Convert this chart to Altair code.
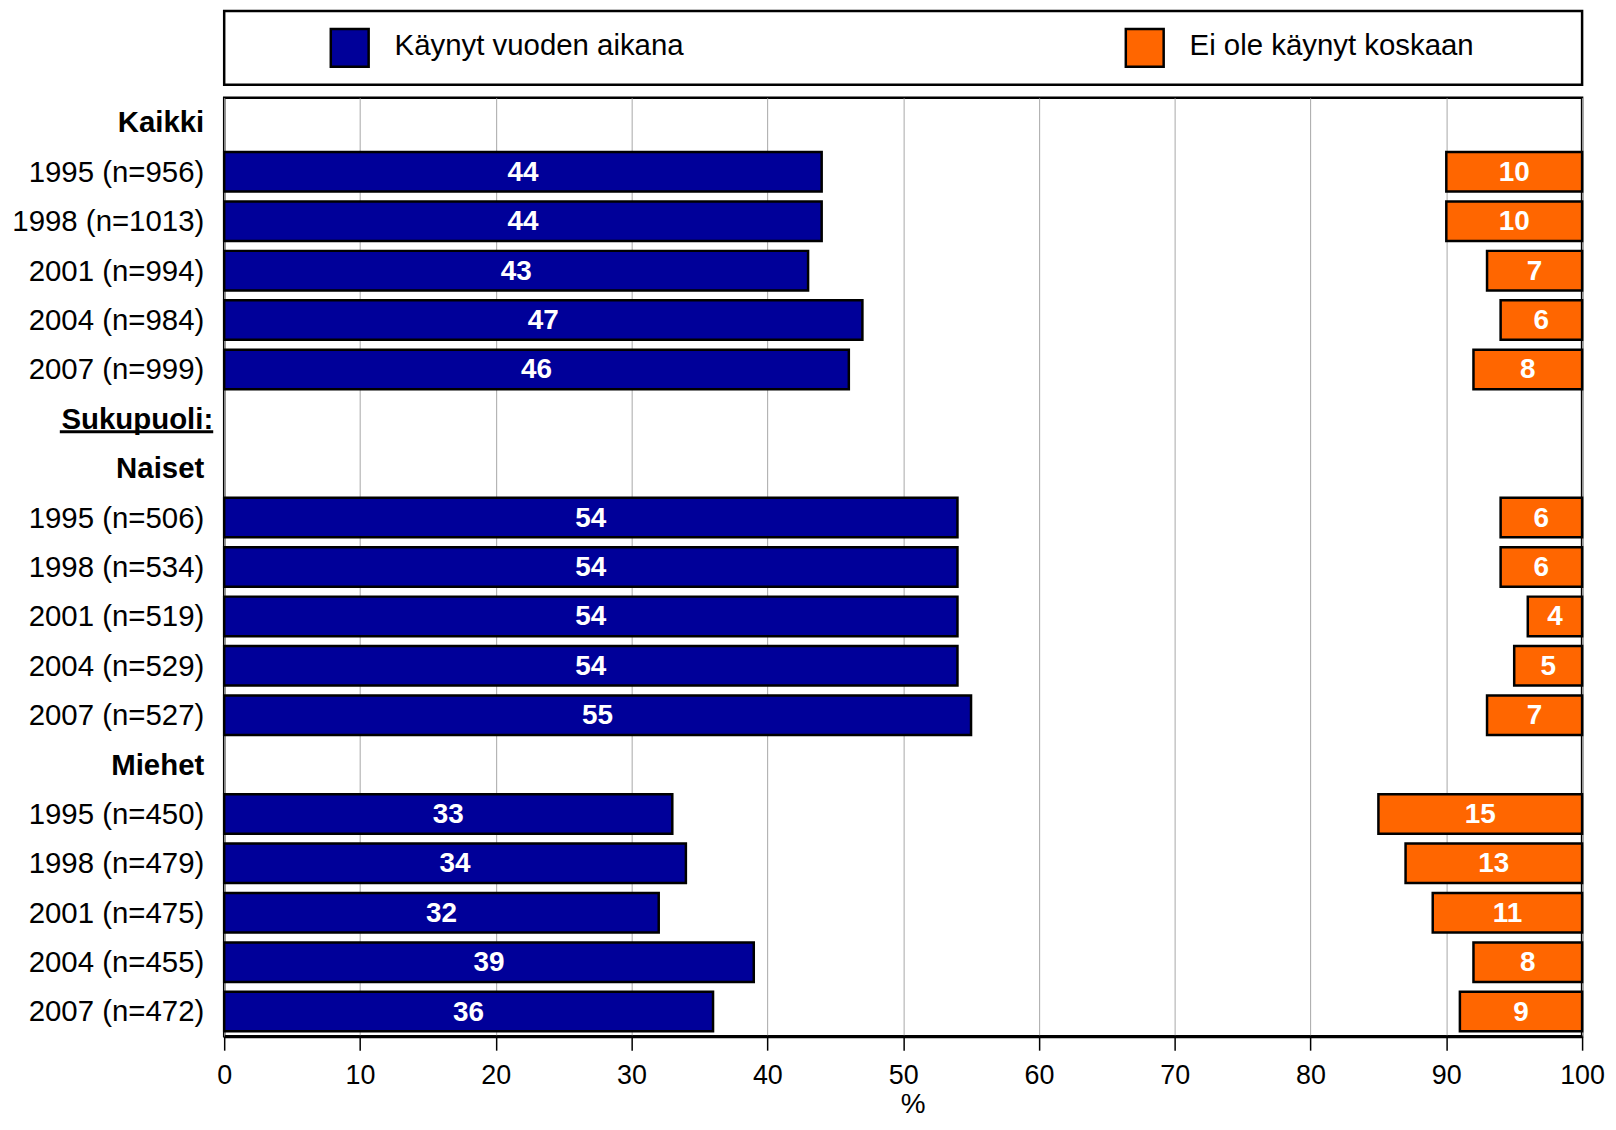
import altair as alt
import pandas as pd

labels = ["Kaikki", "1995 (n=956)", "1998 (n=1013)", "2001 (n=994)", "2004 (n=984)", "2007 (n=999)",
          "Sukupuoli:", "Naiset", "1995 (n=506)", "1998 (n=534)", "2001 (n=519)", "2004 (n=529)", "2007 (n=527)",
          "Miehet", "1995 (n=450)", "1998 (n=479)", "2001 (n=475)", "2004 (n=455)", "2007 (n=472)"]
visited = [None, 44, 44, 43, 47, 46, None, None, 54, 54, 54, 54, 55, None, 33, 34, 32, 39, 36]
never = [None, 10, 10, 7, 6, 8, None, None, 6, 6, 4, 5, 7, None, 15, 13, 11, 8, 9]
kinds = ["head", "row", "row", "row", "row", "row", "section", "head", "row", "row", "row", "row", "row",
         "head", "row", "row", "row", "row", "row"]
series = ["Käynyt vuoden aikana", "Ei ole käynyt koskaan"]
colors = ["#000099", "#FF6600"]
x_ticks = list(range(0, 101, 10))

df = pd.DataFrame({"label": labels, "visited": visited, "never": never, "kind": kinds})
legend_df = pd.DataFrame({"series": series, "color": colors})

W, H = 1363, 942
FONT = "Liberation Sans"
LBL = 29.5

y_enc = alt.Y("label:N", sort=labels, axis=None,
              scale=alt.Scale(paddingInner=0.2, paddingOuter=0.1))
x_scale = alt.Scale(domain=[0, 100], nice=False, zero=False)

base = alt.Chart(df)

blue = base.transform_filter("isValid(datum.visited)").transform_calculate(
    start="0"
).mark_bar(color=colors[0], stroke="black", strokeWidth=2.5).encode(
    x=alt.X("start:Q", scale=x_scale,
            axis=alt.Axis(values=x_ticks, title="%", grid=True, gridColor="#A8A8A8", gridWidth=1,
                          domainColor="black", domainWidth=3, tickColor="black", tickSize=14, tickWidth=1.5,
                          labelFontSize=27, labelColor="black", labelPadding=25, labelBaseline="middle",
                          labelFlush=False, labelOverlap=False,
                          labelFont=FONT, titleFont=FONT, titleFontSize=28, titleFontWeight="normal",
                          titleColor="black", titleX=691, titleY=69, titleBaseline="middle")),
    x2="visited:Q",
    y=y_enc,
)

orange = base.transform_filter("isValid(datum.never)").transform_calculate(
    start="100 - datum.never", end="100"
).mark_bar(color=colors[1], stroke="black", strokeWidth=2.5).encode(
    x=alt.X("start:Q", scale=x_scale),
    x2="end:Q",
    y=y_enc,
)

blue_txt = base.transform_filter("isValid(datum.visited)").transform_calculate(
    mid="datum.visited / 2"
).mark_text(color="white", fontSize=28, fontWeight="bold", font=FONT, baseline="middle", dy=1).encode(
    x=alt.X("mid:Q", scale=x_scale), y=y_enc, text=alt.Text("visited:Q", format="d"))

orange_txt = base.transform_filter("isValid(datum.never)").transform_calculate(
    mid="100 - datum.never / 2"
).mark_text(color="white", fontSize=28, fontWeight="bold", font=FONT, baseline="middle", dy=1).encode(
    x=alt.X("mid:Q", scale=x_scale), y=y_enc, text=alt.Text("never:Q", format="d"))

row_lbl = base.transform_filter("datum.kind == 'row'").mark_text(
    align="right", baseline="middle", fontSize=LBL, font=FONT, color="black", dy=1
).encode(x=alt.value(-20), y=y_enc, text="label:N")

head_lbl = base.transform_filter("datum.kind == 'head'").mark_text(
    align="right", baseline="middle", fontSize=LBL, font=FONT, fontWeight="bold", color="black", dy=1
).encode(x=alt.value(-20), y=y_enc, text="label:N")

sec_lbl = base.transform_filter("datum.kind == 'section'").mark_text(
    align="right", baseline="middle", fontSize=LBL, font=FONT, fontWeight="bold", color="black", dy=1
).encode(x=alt.value(-11), y=y_enc, text="label:N")

sec_line = base.transform_filter("datum.kind == 'section'").mark_rule(
    color="black", strokeWidth=3, yOffset=13
).encode(x=alt.value(-165), x2=alt.value(-11), y=y_enc)

# legend box
leg_box = alt.Chart(legend_df).transform_filter(alt.datum.series == series[0]).mark_rect(
    fill="white", stroke="black", strokeWidth=2.5
).encode(x=alt.value(0), x2=alt.value(W), y=alt.value(-87), y2=alt.value(-13))

leg_layers = []
for s, c, sx, tx in [(series[0], colors[0], 107, 171), (series[1], colors[1], 905, 969)]:
    leg_layers.append(
        alt.Chart(legend_df).transform_filter(alt.datum.series == s).mark_rect(
            stroke="black", strokeWidth=2.5
        ).encode(x=alt.value(sx), x2=alt.value(sx + 38), y=alt.value(-69), y2=alt.value(-31),
                 color=alt.Color("series:N", scale=alt.Scale(domain=series, range=colors), legend=None))
    )
    leg_layers.append(
        alt.Chart(legend_df).transform_filter(alt.datum.series == s).mark_text(
            align="left", baseline="middle", fontSize=LBL, font=FONT, color="black", dy=-2
        ).encode(x=alt.value(tx), y=alt.value(-50), text="series:N")
    )

chart = alt.layer(
    blue, orange, blue_txt, orange_txt, row_lbl, head_lbl, sec_lbl, sec_line, leg_box, *leg_layers
).properties(
    width=W, height=H,
    autosize=alt.AutoSizeParams(type="none"),
    padding={"left": 217, "top": 88, "right": 26, "bottom": 84},
).configure(
    font=FONT, background="white"
).configure_view(
    stroke="black", strokeWidth=2.5
)

chart.save("out.html", embed_options={"renderer": "svg", "actions": False})
